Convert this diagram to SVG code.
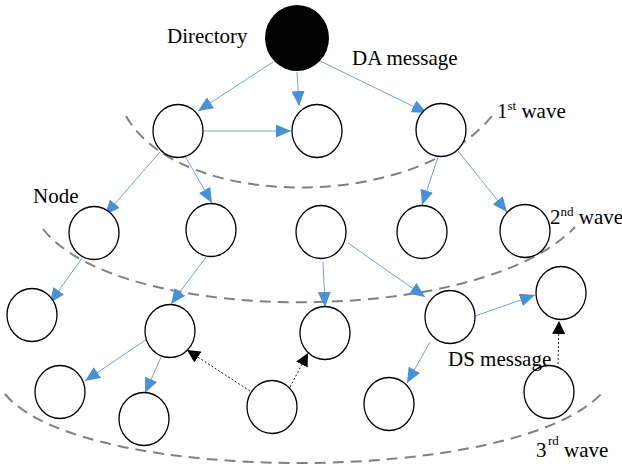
<svg xmlns="http://www.w3.org/2000/svg" width="622" height="464" viewBox="0 0 622 464">
<style>
.n{fill:#fff;stroke:#000;stroke-width:1.3}
.e{stroke:#5B9BD5;stroke-width:0.9;fill:none;marker-end:url(#ab)}
.d{stroke:#000;stroke-width:0.9;stroke-dasharray:2 2;fill:none;marker-end:url(#ak)}
.w{stroke:#808080;stroke-width:2;stroke-dasharray:11 7;fill:none}
text{font-family:"Liberation Serif","Times New Roman",serif;font-size:21px;fill:#000}
.s{font-size:13px}
</style>
<defs>
<marker id="ab" markerUnits="userSpaceOnUse" markerWidth="15" markerHeight="13" refX="15" refY="6.5" orient="auto"><path d="M0,0 L15,6.5 L0,13 z" fill="#4A90D4"/></marker>
<marker id="ak" markerUnits="userSpaceOnUse" markerWidth="13" markerHeight="13" refX="13" refY="6.5" orient="auto"><path d="M0,0 L13,6.5 L0,13 z" fill="#000"/></marker>
</defs>
<g id="waves">
<path class="w" d="M126,116 C180,212 420,212 495,112"/>
<path class="w" d="M43,229 C120,327 480,327 575,227"/>
<path class="w" d="M5,394 C80,486 520,487 604,391"/>
</g>
<g id="connectors">
<line class="e" x1="273" y1="62" x2="198" y2="111"/>
<line class="e" x1="297" y1="72" x2="299" y2="106"/>
<line class="e" x1="320" y1="61" x2="427" y2="113"/>
<line class="e" x1="203" y1="131" x2="291" y2="131"/>
<line class="e" x1="160" y1="152" x2="105" y2="215"/>
<line class="e" x1="185" y1="156" x2="212" y2="203"/>
<line class="e" x1="438" y1="157" x2="422" y2="205"/>
<line class="e" x1="458" y1="151" x2="507" y2="212"/>
<line class="e" x1="82" y1="258" x2="50" y2="303"/>
<line class="e" x1="206" y1="257" x2="171" y2="304"/>
<line class="e" x1="323" y1="262" x2="325" y2="307"/>
<line class="e" x1="348" y1="243" x2="425" y2="297"/>
<line class="e" x1="475" y1="316" x2="535" y2="295"/>
<line class="e" x1="147" y1="339" x2="85" y2="381"/>
<line class="e" x1="162" y1="355" x2="145" y2="393"/>
<line class="e" x1="430" y1="342" x2="407" y2="383"/>
<line class="d" x1="250" y1="391" x2="187" y2="350"/>
<line class="d" x1="290" y1="387" x2="308" y2="353"/>
<line class="d" x1="558" y1="364" x2="559" y2="321"/>
</g>
<g id="directory"><ellipse cx="297" cy="38" rx="32" ry="33" fill="#000"/></g>
<g id="nA"><ellipse class="n" cx="178" cy="131" rx="25" ry="26.5"/></g>
<g id="nB"><ellipse class="n" cx="317" cy="131" rx="25" ry="26.5"/></g>
<g id="nC"><ellipse class="n" cx="441" cy="130" rx="25" ry="26.5"/></g>
<g id="nD"><ellipse class="n" cx="94" cy="233" rx="25" ry="26.5"/></g>
<g id="nE"><ellipse class="n" cx="211" cy="230" rx="25" ry="26.5"/></g>
<g id="nF"><ellipse class="n" cx="321" cy="232" rx="25" ry="26.5"/></g>
<g id="nG"><ellipse class="n" cx="422" cy="232" rx="25" ry="26.5"/></g>
<g id="nH"><ellipse class="n" cx="525" cy="231" rx="25" ry="26.5"/></g>
<g id="nI"><ellipse class="n" cx="32" cy="315" rx="25" ry="26.5"/></g>
<g id="nJ"><ellipse class="n" cx="170" cy="331" rx="25" ry="26.5"/></g>
<g id="nK"><ellipse class="n" cx="325" cy="333" rx="25" ry="26.5"/></g>
<g id="nL"><ellipse class="n" cx="450" cy="317" rx="25" ry="26.5"/></g>
<g id="nM"><ellipse class="n" cx="561" cy="293" rx="25" ry="26.5"/></g>
<g id="nN"><ellipse class="n" cx="60" cy="392" rx="25" ry="26.5"/></g>
<g id="nO"><ellipse class="n" cx="144" cy="419" rx="25" ry="26.5"/></g>
<g id="nP"><ellipse class="n" cx="272" cy="407" rx="25" ry="26.5"/></g>
<g id="nQ"><ellipse class="n" cx="389" cy="404" rx="25" ry="26.5"/></g>
<g id="nR"><ellipse class="n" cx="549" cy="392" rx="25" ry="26.5"/></g>
<g id="labels">
<text x="167" y="43">Directory</text>
<text x="352" y="65">DA message</text>
<text x="33" y="203">Node</text>
<text x="448" y="366">DS message</text>
<text x="497" y="118">1<tspan class="s" dy="-8">st</tspan><tspan dy="8"> wave</tspan></text>
<text x="550" y="224">2<tspan class="s" dy="-8">nd</tspan><tspan dy="8"> wave</tspan></text>
<text x="536" y="457">3</text>
<text class="s" x="548" y="445">rd</text>
<text x="564" y="457">wave</text>
</g>
</svg>
